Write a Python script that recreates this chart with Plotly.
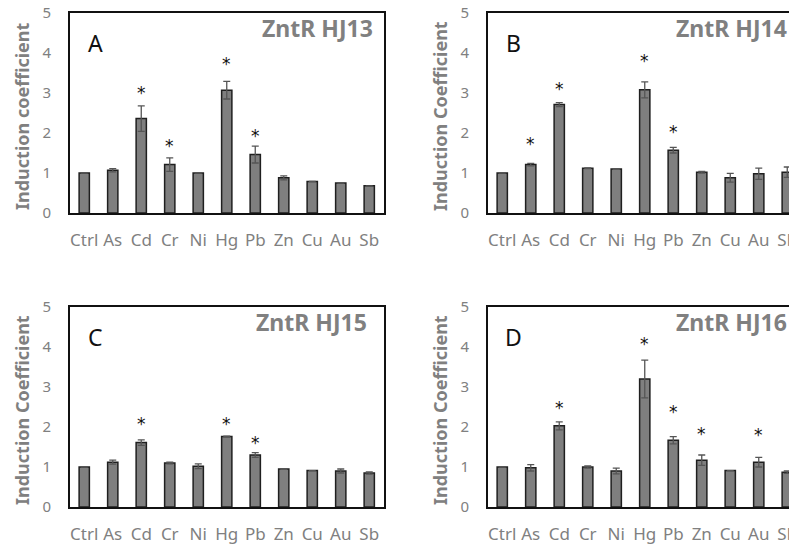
import plotly.graph_objects as go

categories = ["Ctrl", "As", "Cd", "Cr", "Ni", "Hg", "Pb", "Zn", "Cu", "Au", "Sb"]

# Panel A - ZntR HJ13
a_vals = [1.00, 1.07, 2.36, 1.21, 1.00, 3.07, 1.46, 0.88, 0.79, 0.75, 0.68]
a_err = [0.00, 0.04, 0.32, 0.17, 0.00, 0.22, 0.21, 0.05, 0.00, 0.00, 0.00]
a_star = [None, None, 3.00, 1.67, None, 3.72, 1.93, None, None, None, None]

# Panel B - ZntR HJ14
b_vals = [1.00, 1.21, 2.71, 1.12, 1.10, 3.08, 1.57, 1.02, 0.88, 0.98, 1.02]
b_err = [0.00, 0.03, 0.05, 0.01, 0.01, 0.20, 0.07, 0.02, 0.11, 0.14, 0.13]
b_star = [None, 1.73, 3.10, None, None, 3.81, 2.02, None, None, None, None]

# Panel C - ZntR HJ15
c_vals = [1.00, 1.12, 1.61, 1.10, 1.02, 1.76, 1.30, 0.95, 0.91, 0.90, 0.85]
c_err = [0.00, 0.05, 0.07, 0.02, 0.06, 0.01, 0.06, 0.01, 0.00, 0.05, 0.03]
c_star = [None, None, 2.08, None, None, 2.08, 1.60, None, None, None, None]

# Panel D - ZntR HJ16
d_vals = [1.00, 0.98, 2.03, 1.00, 0.90, 3.20, 1.67, 1.17, 0.91, 1.12, 0.87]
d_err = [0.00, 0.08, 0.10, 0.03, 0.07, 0.47, 0.09, 0.13, 0.00, 0.12, 0.03]
d_star = [None, None, 2.47, None, None, 4.07, 2.38, 1.83, None, 1.79, None]

panels = [
    ("A", "ZntR HJ13", "Induction coefficient", a_vals, a_err, a_star),
    ("B", "ZntR HJ14", "Induction Coefficient", b_vals, b_err, b_star),
    ("C", "ZntR HJ15", "Induction Coefficient", c_vals, c_err, c_star),
    ("D", "ZntR HJ16", "Induction Coefficient", d_vals, d_err, d_star),
]

W, H = 797, 547
OFF = 8  # page body margin
def px(x):
    return (x - OFF) / W
def py(y):
    return 1 - (y - OFF) / H

# pixel boxes on screen (left, right, top, bottom)
boxes = [(70, 384, 13, 213), (488, 797, 13, 213), (70, 384, 307, 507), (488, 797, 307, 507)]
cat_w = 28.5

GRAY = "#808080"
FONT = "Noto Sans"

fig = go.Figure()
annotations = []
for i, ((letter, title, ytitle, vals, errs, stars), (l, r, t, b)) in enumerate(zip(panels, boxes)):
    n = i + 1
    xa = "x" if n == 1 else f"x{n}"
    ya = "y" if n == 1 else f"y{n}"
    fig.add_trace(go.Bar(
        x=list(range(len(categories))), y=vals, xaxis=xa, yaxis=ya,
        width=0.36,
        marker=dict(color="#7f7f7f", line=dict(color="#1f1f1f", width=1.5)),
        error_y=dict(type="data", array=errs, visible=True, color="#555555", thickness=1.3, width=3.5),
        showlegend=False, hoverinfo="skip",
    ))
    for k, s in enumerate(stars):
        if s is None:
            continue
        annotations.append(dict(
            text="*", xref=xa, yref=ya, x=k, y=s, xanchor="center", yanchor="middle",
            showarrow=False, font=dict(family="DejaVu Sans", size=17, color="#111111"),
        ))
    xmax = (r - l) / cat_w - 0.5
    cut = r >= W
    fig.layout[("xaxis" if n == 1 else f"xaxis{n}")] = dict(
        domain=[px(l), min(1.0, px(r))], anchor=ya, range=[-0.5, xmax],
        tickmode="array", tickvals=list(range(len(categories))), ticktext=categories,
        showline=True, linecolor="#111111", linewidth=2, mirror=True,
        showgrid=False, zeroline=False, ticks="", ticklabelstandoff=11,
        ticklabeloverflow="allow",
        tickfont=dict(family=FONT, size=17, color=GRAY), fixedrange=True, automargin=False,
    )
    fig.layout[("yaxis" if n == 1 else f"yaxis{n}")] = dict(
        domain=[py(b), py(t)], anchor=xa, range=[0, 5], dtick=1,
        showline=True, linecolor="#111111", linewidth=2, mirror=(not cut),
        showgrid=False, zeroline=False, ticks="", ticklabelstandoff=14,
        ticklabeloverflow="allow",
        tickfont=dict(family=FONT, size=15, color=GRAY), fixedrange=True, automargin=False,
    )
    annotations.append(dict(
        text=letter, xref="paper", yref="paper", x=px(l + 25), y=py(t + 30),
        xanchor="center", yanchor="middle", showarrow=False,
        font=dict(family=FONT, size=23, color="#111111"),
    ))
    tr = 375 if i == 0 else (369 if i == 2 else 789)
    annotations.append(dict(
        text=f"<b>{title}</b>", xref="paper", yref="paper", x=px(tr), y=py(t + 15),
        xanchor="right", yanchor="middle", showarrow=False,
        font=dict(family=FONT, size=23, color=GRAY),
    ))
    annotations.append(dict(
        text=f"<b>{ytitle}</b>", xref="paper", yref="paper", x=px(l - 48), y=py((t + b) / 2 + 3),
        xanchor="center", yanchor="middle", showarrow=False, textangle=-90,
        font=dict(family=FONT, size=18, color=GRAY),
    ))

fig.update_layout(
    width=W, height=H, margin=dict(l=0, r=0, t=0, b=0),
    plot_bgcolor="white", paper_bgcolor="white", template="none",
    annotations=annotations,
)
fig.write_html("out.html")
